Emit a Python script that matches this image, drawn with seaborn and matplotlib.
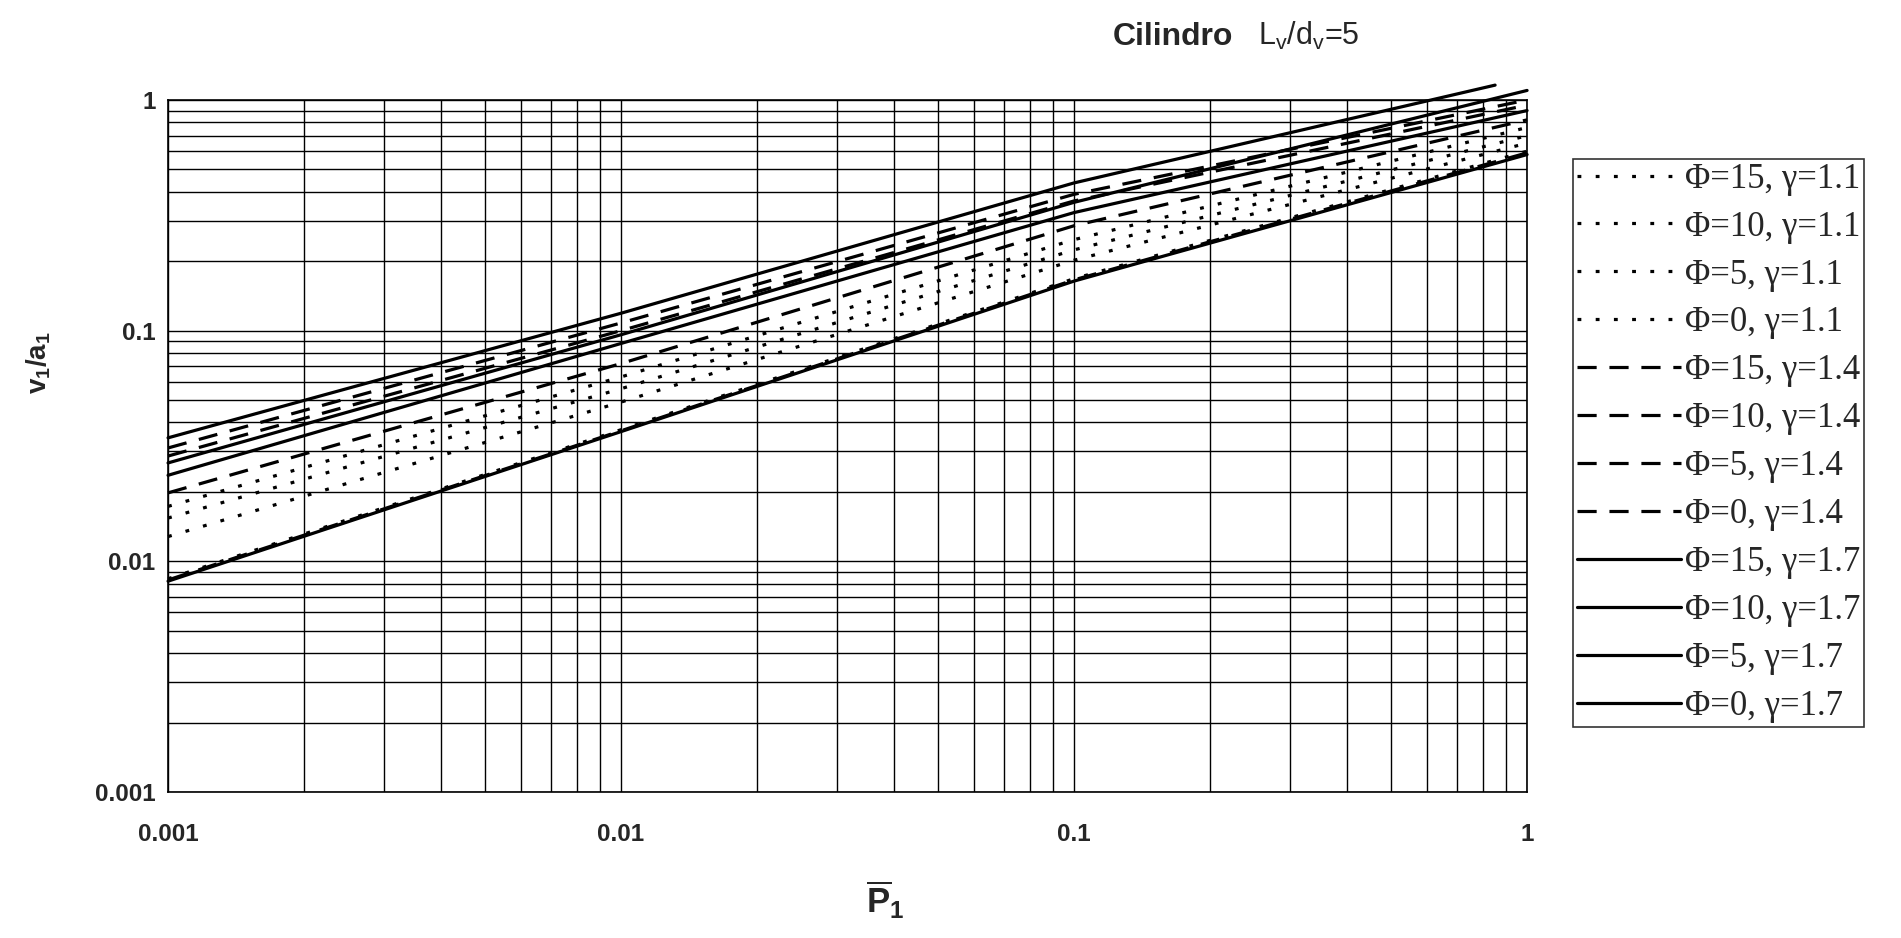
import matplotlib
matplotlib.use("Agg")
import matplotlib.pyplot as plt
import numpy as np
import pandas as pd
import seaborn as sns

# abscissa P1 (log scale) and v1/a1 values
p_vals = [0.001, 0.01, 0.1, 1.0]
p_short = [0.001, 0.01, 0.1, 0.85]   # top curve stops before P1 = 1

phi15_g11 = [0.0173, 0.063, 0.248, 0.76]
phi10_g11 = [0.0154, 0.056, 0.224, 0.70]
phi5_g11 = [0.0128, 0.049, 0.202, 0.65]
phi0_g11 = [0.0084, 0.0372, 0.168, 0.60]
phi15_g14 = [0.0310, 0.108, 0.390, 1.00]
phi10_g14 = [0.0286, 0.100, 0.365, 0.95]
phi5_g14 = [0.0198, 0.072, 0.285, 0.82]
phi0_g14 = [0.0083, 0.0368, 0.166, 0.59]
phi15_g17 = [0.0343, 0.119, 0.437, 1.16]
phi10_g17 = [0.0267, 0.096, 0.360, 1.10]
phi5_g17 = [0.0236, 0.088, 0.325, 0.90]
phi0_g17 = [0.0082, 0.0365, 0.164, 0.58]

labels = ["Φ=15, γ=1.1", "Φ=10, γ=1.1", "Φ=5, γ=1.1", "Φ=0, γ=1.1",
          "Φ=15, γ=1.4", "Φ=10, γ=1.4", "Φ=5, γ=1.4", "Φ=0, γ=1.4",
          "Φ=15, γ=1.7", "Φ=10, γ=1.7", "Φ=5, γ=1.7", "Φ=0, γ=1.7"]
series = [phi15_g11, phi10_g11, phi5_g11, phi0_g11,
          phi15_g14, phi10_g14, phi5_g14, phi0_g14,
          phi15_g17, phi10_g17, phi5_g17, phi0_g17]
xs = [p_vals] * 8 + [p_short] + [p_vals] * 3

dotted = (0, (1.2, 4.5))
dashed = (0, (6, 4))
styles = [dotted] * 4 + [dashed] * 4 + ["-"] * 4

sns.set_style("white")
plt.rcParams["font.family"] = ["Liberation Sans", "DejaVu Sans"]
plt.rcParams["mathtext.fontset"] = "custom"
plt.rcParams["mathtext.rm"] = "Liberation Sans"
plt.rcParams["mathtext.bf"] = "Liberation Sans:bold"

fig = plt.figure(figsize=(19.01, 9.38), dpi=100)
ax = fig.add_axes([0.0884, 0.1557, 0.7149, 0.7377])

for x, y, lab, ls in zip(xs, series, labels, styles):
    df = pd.DataFrame({"P": x, "v": y})
    sns.lineplot(data=df, x="P", y="v", ax=ax, color="black", linewidth=2.3,
                 linestyle=ls, label=lab, legend=False)

# curves run a little above the frame at the top right
for line in ax.lines:
    line.set_clip_on(False)

ax.set_xscale("log")
ax.set_yscale("log")
ax.set_xlim(0.001, 1)
ax.set_ylim(0.001, 1)

ax.grid(True, which="both", color="black", linewidth=1.0)
for sp in ax.spines.values():
    sp.set_color("black")
    sp.set_linewidth(1.2)

ax.set_xticks([0.001, 0.01, 0.1, 1])
ax.set_xticklabels(["0.001", "0.01", "0.1", "1"])
ax.set_yticks([0.001, 0.01, 0.1, 1])
ax.set_yticklabels(["0.001", "0.01", "0.1", "1"])
ax.tick_params(axis="both", which="major", direction="out", length=6, width=1.2,
               color="black", labelsize=17.5)
ax.tick_params(axis="x", which="major", pad=16)
ax.tick_params(axis="y", which="major", pad=3)
ax.tick_params(which="minor", length=0)
for t in ax.get_xticklabels() + ax.get_yticklabels():
    t.set_fontweight("bold")

ax.set_xlabel(r"$\overline{\mathbf{P}}_{\mathbf{1}}$", fontsize=25)
ax.xaxis.set_label_coords(0.528, -0.125)
ax.set_ylabel(r"$\mathbf{v_1/a_1}$", fontsize=20)
ax.yaxis.set_label_coords(-0.085, 0.62)

fig.text(0.5855, 0.952, "Cilindro", fontsize=23, fontweight="heavy", ha="left", va="baseline")
fig.text(0.662, 0.952, r"L$_\mathregular{v}$/d$_\mathregular{v}$=5", fontsize=22,
         ha="left", va="baseline")

handles, labs = ax.get_legend_handles_labels()
leg = ax.legend(handles, labs, loc="upper left", bbox_to_anchor=(0.8275, 0.831),
                bbox_transform=fig.transFigure, borderaxespad=0, fancybox=False,
                frameon=True, edgecolor="black", handlelength=3.0, handletextpad=0.1,
                labelspacing=0.43, borderpad=0.12,
                prop={"family": "Liberation Serif", "size": 25})
leg.get_frame().set_linewidth(1.2)

fig.savefig("out.png", dpi=100, facecolor="white")
